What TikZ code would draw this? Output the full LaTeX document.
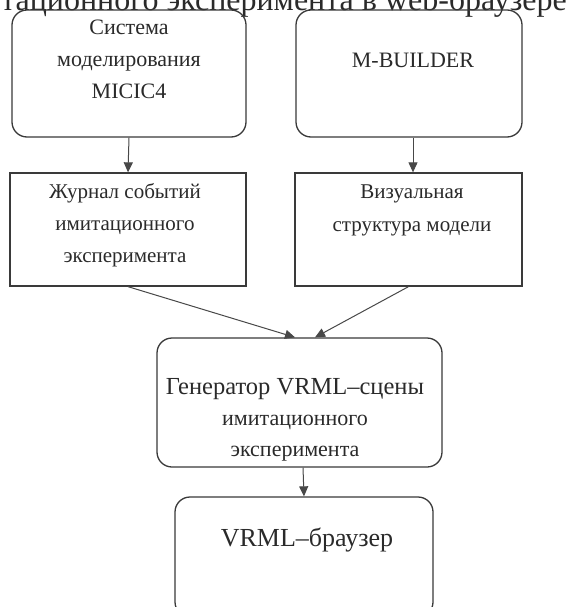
\documentclass[tikz,border=0pt]{standalone}
\usepackage{fontspec}
\setmainfont{Liberation Serif}
\usetikzlibrary{arrows.meta,calc}
\definecolor{boxc}{HTML}{3A3A3A}
\definecolor{linec}{HTML}{484848}
\definecolor{txtc}{HTML}{2A2A2A}
\begin{document}
\begin{tikzpicture}[x=1pt,y=-1pt,
  rbox/.style={draw=boxc, line width=1.3pt, rounded corners=15pt, inner sep=0pt},
  sbox/.style={draw=boxc, line width=1.3pt, inner sep=0pt},
  lbl/.style={text=txtc, align=center, inner sep=0pt},
  conn/.style={draw=linec, line width=1pt, -{Triangle[length=10pt,width=9pt]}}]
\useasboundingbox (0,0) rectangle (574,607);
\fill[white] (0,0) rectangle (574,607);
% cut-off caption at the top
\node[anchor=base west, text=txtc, font=\fontsize{32}{34}\selectfont, inner sep=0pt] (hdr) at (1,11) {тационного эксперимента в web-браузере};
% boxes
\node[rbox, minimum width=234, minimum height=127] (b1) at (129,73.5) {};
\node[rbox, minimum width=226, minimum height=127] (b2) at (409,73.5) {};
\node[sbox, minimum width=236, minimum height=113] (b3) at (128,229.5) {};
\node[sbox, minimum width=227, minimum height=113] (b4) at (408.5,229.5) {};
\node[rbox, minimum width=285, minimum height=129] (b5) at (299.5,402.5) {};
\node[rbox, minimum width=258, minimum height=120] (b6) at (304,557) {};
% labels
\node[lbl, font=\fontsize{22}{32}\selectfont] (t1) at (129,59) {Система\\моделирования\\MICIC4};
\node[lbl, font=\fontsize{22}{32}\selectfont] (t2) at (413,60) {M-BUILDER};
\node[lbl, font=\fontsize{21}{32}\selectfont] (t3) at (125,225) {Журнал событий\\имитационного\\эксперимента};
\node[lbl, font=\fontsize{21}{33}\selectfont] (t4) at (412,210) {Визуальная\\структура модели};
\node[lbl, font=\fontsize{22}{31}\selectfont] (t5) at (295,420) {{\fontsize{24.5}{31}\selectfont Генератор VRML--сцены}\\имитационного\\эксперимента};
\node[lbl, font=\fontsize{26}{30}\selectfont] (t6) at (307,540) {VRML--браузер};
% connectors
\draw[conn] (b1.south) -- (b3.north);
\draw[conn] ($(b2.south)+(4,0)$) -- ($(b4.north)+(4.5,0)$);
\draw[conn] (b3.south) -- ($(b5.north)+(-4.5,0)$);
\draw[conn] (b4.south) -- ($(b5.north)+(15.5,0)$);
\draw[conn] ($(b5.south)+(3.5,0)$) -- (b6.north);
\end{tikzpicture}
\end{document}
